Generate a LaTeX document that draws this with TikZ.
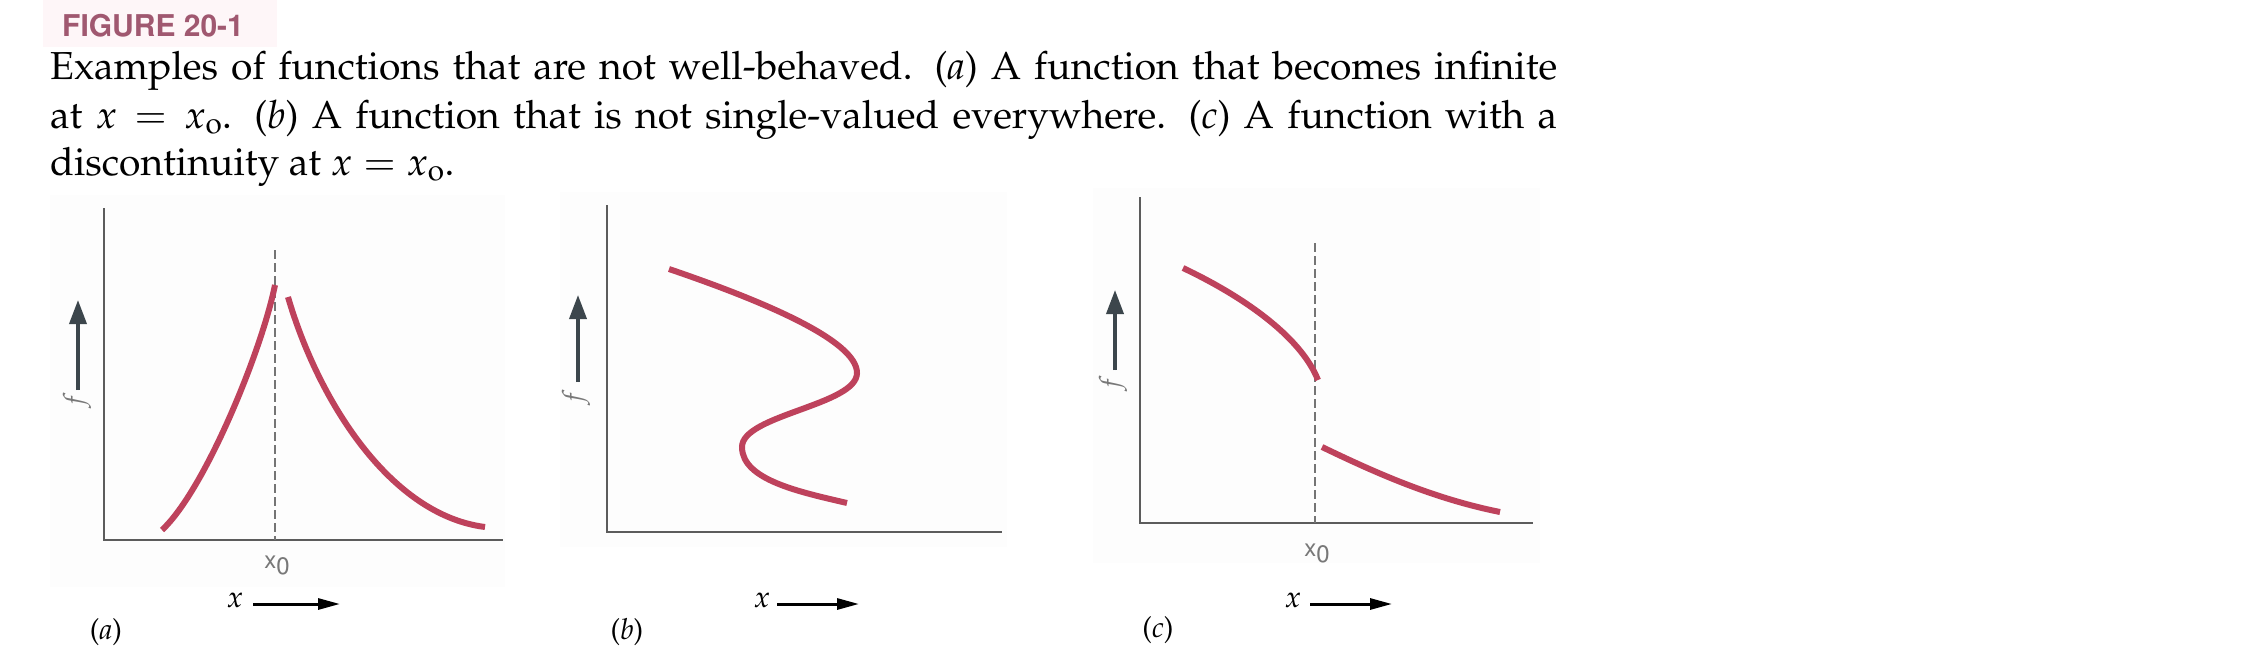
\documentclass[tikz,border=0pt]{standalone}
\usepackage[T1]{fontenc}
\usepackage{mathpazo}
\usepackage{helvet}
\usetikzlibrary{arrows.meta}
\definecolor{figred}{RGB}{190,66,92}
\definecolor{axisgray}{RGB}{92,92,92}
\definecolor{arrowgray}{RGB}{60,70,76}
\definecolor{labgray}{RGB}{120,120,120}
\definecolor{headmauve}{RGB}{160,88,112}
\definecolor{headbg}{RGB}{254,246,248}
\definecolor{panelbg}{RGB}{253,253,253}
\tikzset{
  axisline/.style={draw=axisgray,line width=2.6pt,line join=miter},
  curve/.style={draw=figred,line width=6pt},
  guide/.style={draw=axisgray!85,line width=2pt,dash pattern=on 9pt off 4pt},
  farrow/.style={draw=arrowgray,fill=arrowgray,line width=3.6pt,-{Triangle[length=24pt,width=17pt]}},
  xarrow/.style={draw=black,line width=3pt,-{Triangle[length=22pt,width=11pt]}},
  flabel/.style={text=labgray,rotate=90,font=\fontsize{28}{28}\selectfont\itshape,inner sep=0pt},
  xolabel/.style={text=labgray,font=\fontfamily{phv}\fontsize{24}{24}\selectfont,inner sep=0pt},
  xlabel/.style={font=\fontsize{30}{30}\selectfont,inner sep=0pt},
  plabel/.style={font=\fontsize{29}{29}\selectfont,inner sep=0pt},
  capline/.style={anchor=base west,inner sep=0pt,font=\fontsize{39}{47}\selectfont},
  panelbox/.style={fill=panelbg,draw=none}
}
\begin{document}
\begin{tikzpicture}[x=1pt,y=-1pt]
\useasboundingbox[fill=white] (0,0) rectangle (2252,661);
% faint scan backgrounds
\fill[headbg] (43,0) rectangle (277,47);
\fill[panelbox] (50,195) rectangle (505,587);
\fill[panelbox] (560,192) rectangle (1007,547);
\fill[panelbox] (1093,188) rectangle (1540,563);
% header and caption
\node[anchor=base west,inner sep=0pt,text=headmauve,font=\fontfamily{phv}\bfseries\fontsize{30}{30}\selectfont] (head) at (62,37) {FIGURE 20-1};
\node[capline] (cap1) at (50,80) {\makebox[1507pt][s]{Examples of functions that are not well-behaved. (\textit{a}) A function that becomes infinite}};
\node[capline] (cap2) at (50,128) {\makebox[1507pt][s]{at $x = x_{\mathrm{o}}$. (\textit{b}) A function that is not single-valued everywhere. (\textit{c}) A function with a}};
\node[capline] (cap3) at (50,175) {discontinuity at $x = x_{\mathrm{o}}$.};

% ---------- panel (a)
\coordinate (aTop) at (104,208);
\coordinate (aO) at (104,540);
\coordinate (aEnd) at (503,540);
\draw[axisline] (aTop) -- (aO) -- (aEnd);
\coordinate (aDt) at (275,250);
\coordinate (aDb) at (275,540);
\draw[guide] (aDt) -- (aDb);
\coordinate (aL0) at (162,530);
\coordinate (aL1) at (275,285);
\draw[curve] (aL0) .. controls (205,490) and (262,350) .. (aL1);
\coordinate (aR0) at (288,297);
\coordinate (aR1) at (485,527);
\draw[curve] (aR0) .. controls (318,400) and (390,515) .. (aR1);
\coordinate (aFb) at (78,390);
\coordinate (aFt) at (78,300);
\draw[farrow] (aFb) -- (aFt);
\node[flabel] (af) at (77,401) {f};
\node[xolabel] (ax0) at (277,565) {x\raisebox{-6pt}{0}};
\node[xlabel] (ax) at (235,600) {$x$};
\coordinate (aXs) at (253,604);
\coordinate (aXe) at (340,604);
\draw[xarrow] (aXs) -- (aXe);
\node[plabel] (alab) at (106,632) {(\textit{a})};

% ---------- panel (b)
\coordinate (bTop) at (607,205);
\coordinate (bO) at (607,532);
\coordinate (bEnd) at (1002,532);
\draw[axisline] (bTop) -- (bO) -- (bEnd);
\coordinate (bC0) at (669,269);
\coordinate (bC1) at (857,373);
\coordinate (bC2) at (742,447);
\coordinate (bC3) at (847,503);
\draw[curve] (bC0) .. controls (760,300) and (857,340) .. (bC1)
  .. controls (857,405) and (742,415) .. (bC2)
  .. controls (742,480) and (800,492) .. (bC3);
\coordinate (bFb) at (578,382);
\coordinate (bFt) at (578,295);
\draw[farrow] (bFb) -- (bFt);
\node[flabel] (bf) at (576,398) {f};
\node[xlabel] (bx) at (762,600) {$x$};
\coordinate (bXs) at (777,604);
\coordinate (bXe) at (859,604);
\draw[xarrow] (bXs) -- (bXe);
\node[plabel] (blab) at (627,632) {(\textit{b})};

% ---------- panel (c)
\coordinate (cTop) at (1140,197);
\coordinate (cO) at (1140,523);
\coordinate (cEnd) at (1533,523);
\draw[axisline] (cTop) -- (cO) -- (cEnd);
\coordinate (cDt) at (1315,243);
\coordinate (cDb) at (1315,523);
\draw[guide] (cDt) -- (cDb);
\coordinate (cU0) at (1183,268);
\coordinate (cU1) at (1318,380);
\draw[curve] (cU0) .. controls (1240,295) and (1300,335) .. (cU1);
\coordinate (cL0) at (1322,447);
\coordinate (cL1) at (1500,512);
\draw[curve] (cL0) .. controls (1370,470) and (1430,498) .. (cL1);
\coordinate (cFb) at (1115,370);
\coordinate (cFt) at (1115,290);
\draw[farrow] (cFb) -- (cFt);
\node[flabel] (cf) at (1113,384) {f};
\node[xolabel] (cx0) at (1317,553) {x\raisebox{-6pt}{0}};
\node[xlabel] (cx) at (1293,600) {$x$};
\coordinate (cXs) at (1310,604);
\coordinate (cXe) at (1392,604);
\draw[xarrow] (cXs) -- (cXe);
\node[plabel] (clab) at (1158,630) {(\textit{c})};
\end{tikzpicture}
\end{document}
